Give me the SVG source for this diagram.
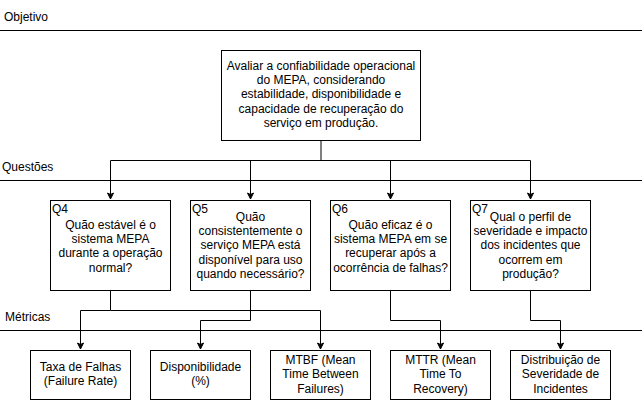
<svg xmlns="http://www.w3.org/2000/svg" width="642" height="401" viewBox="0 0 642 401">
<defs>
<style>
text{font-family:"Liberation Sans",Arial,sans-serif;font-size:12px;fill:#000}
.c{text-anchor:middle}
.box{fill:#fff;stroke:#000;stroke-width:1}
.sep{stroke:#000;stroke-width:1;fill:none}
.edge{stroke:#000;stroke-width:1;fill:none;marker-end:url(#arr)}
</style>
<marker id="arr" markerWidth="8" markerHeight="8" refX="7" refY="4" orient="auto" markerUnits="userSpaceOnUse">
<path d="M1,1 L7,4 L1,7 L2.5,4 Z" fill="#000" stroke="#000" stroke-width="1"/>
</marker>
</defs>
<rect width="642" height="401" fill="#fff"/>
<g id="lanes">
<line class="sep" x1="0" y1="30.5" x2="642" y2="30.5"/>
<line class="sep" x1="0" y1="180.5" x2="642" y2="180.5"/>
<line class="sep" x1="0" y1="330.5" x2="642" y2="330.5"/>
<text x="4" y="21">Objetivo</text>
<text x="2" y="171">Questões</text>
<text x="5" y="321">Métricas</text>
</g>
<g id="connectors">
<path class="edge" d="M321,140.5 V160.5 H110.5 V199"/>
<path class="edge" d="M321,160.5 H250.5 V199"/>
<path class="edge" d="M321,160.5 H390.5 V199"/>
<path class="edge" d="M321,160.5 H530.5 V199"/>
<path class="edge" d="M110.5,290 V310.5 H80.5 V349"/>
<path class="edge" d="M110.5,310.5 H320.5 V349"/>
<path class="edge" d="M250.5,290 V320.5 H200.5 V349"/>
<path class="edge" d="M390.5,290 V320.5 H440.5 V349"/>
<path class="edge" d="M530.5,290 V320.5 H560.5 V349"/>
</g>
<g id="objetivo">
<rect class="box" x="221.5" y="50.5" width="199" height="90"/>
<text class="c" x="321" y="69.5">Avaliar a confiabilidade operacional</text>
<text class="c" x="321" y="83.9">do MEPA, considerando</text>
<text class="c" x="321" y="98.3">estabilidade, disponibilidade e</text>
<text class="c" x="321" y="112.7">capacidade de recuperação do</text>
<text class="c" x="321" y="127.1">serviço em produção.</text>
</g>
<g id="q4">
<rect class="box" x="50.5" y="200.5" width="120" height="90"/>
<text x="52" y="213">Q4</text>
<text class="c" x="110.5" y="228.5">Quão estável é o</text>
<text class="c" x="110.5" y="242.9">sistema MEPA</text>
<text class="c" x="110.5" y="257.3">durante a operação</text>
<text class="c" x="110.5" y="271.7">normal?</text>
</g>
<g id="q5">
<rect class="box" x="190.5" y="200.5" width="120" height="90"/>
<text x="192" y="213">Q5</text>
<text class="c" x="250.5" y="220.5">Quão</text>
<text class="c" x="250.5" y="234.9">consistentemente o</text>
<text class="c" x="250.5" y="249.3">serviço MEPA está</text>
<text class="c" x="250.5" y="263.7">disponível para uso</text>
<text class="c" x="250.5" y="278.1">quando necessário?</text>
</g>
<g id="q6">
<rect class="box" x="330.5" y="200.5" width="120" height="90"/>
<text x="332" y="213">Q6</text>
<text class="c" x="390.5" y="228.5">Quão eficaz é o</text>
<text class="c" x="390.5" y="242.9">sistema MEPA em se</text>
<text class="c" x="390.5" y="257.3">recuperar após a</text>
<text class="c" x="390.5" y="271.7">ocorrência de falhas?</text>
</g>
<g id="q7">
<rect class="box" x="470.5" y="200.5" width="120" height="90"/>
<text x="472" y="213">Q7</text>
<text class="c" x="530.5" y="220.5">Qual o perfil de</text>
<text class="c" x="530.5" y="234.9">severidade e impacto</text>
<text class="c" x="530.5" y="249.3">dos incidentes que</text>
<text class="c" x="530.5" y="263.7">ocorrem em</text>
<text class="c" x="530.5" y="278.1">produção?</text>
</g>
<g id="m1">
<rect class="box" x="30.5" y="350.5" width="100" height="49"/>
<text class="c" x="80.5" y="371">Taxa de Falhas</text>
<text class="c" x="80.5" y="385.4">(Failure Rate)</text>
</g>
<g id="m2">
<rect class="box" x="150.5" y="350.5" width="100" height="49"/>
<text class="c" x="200.5" y="371">Disponibilidade</text>
<text class="c" x="200.5" y="385.4">(%)</text>
</g>
<g id="m3">
<rect class="box" x="270.5" y="350.5" width="100" height="49"/>
<text class="c" x="320.5" y="363.8">MTBF (Mean</text>
<text class="c" x="320.5" y="378.2">Time Between</text>
<text class="c" x="320.5" y="392.6">Failures)</text>
</g>
<g id="m4">
<rect class="box" x="390.5" y="350.5" width="100" height="49"/>
<text class="c" x="440.5" y="363.8">MTTR (Mean</text>
<text class="c" x="440.5" y="378.2">Time To</text>
<text class="c" x="440.5" y="392.6">Recovery)</text>
</g>
<g id="m5">
<rect class="box" x="510.5" y="350.5" width="100" height="49"/>
<text class="c" x="560.5" y="363.8">Distribuição de</text>
<text class="c" x="560.5" y="378.2">Severidade de</text>
<text class="c" x="560.5" y="392.6">Incidentes</text>
</g>
</svg>
